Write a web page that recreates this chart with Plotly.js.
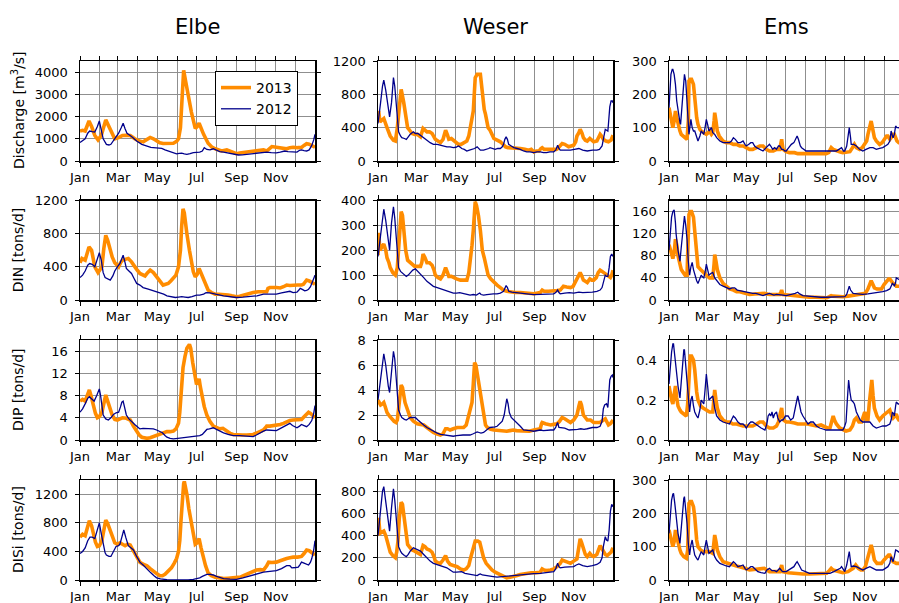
<!DOCTYPE html>
<html>
<head>
<meta charset="utf-8">
<script src="https://cdn.plot.ly/plotly-3.0.1.min.js"></script>
<style>
  html, body { margin: 0; padding: 0; overflow: hidden; background: #fff; }
  #chart { width: 906px; height: 603px; }
</style>
</head>
<body>
<div id="chart"></div>
<script>
// ---- Data: [day of year, value] --------------------------------------------
const MONTH_DAYS = [0, 31, 59, 90, 120, 151, 181, 212, 243, 273, 304, 334];
const MONTH_LABELS = ['Jan', '', 'Mar', '', 'May', '', 'Jul', '', 'Sep', '', 'Nov', ''];
const RIVERS = ['Elbe', 'Weser', 'Ems'];
const VARIABLES = ['Discharge [m<sup>3</sup>/s]', 'DIN [tons/d]', 'DIP [tons/d]', 'DISi [tons/d]'];
const YEARS = ['2013', '2012'];

// Discharge [m3/s]
const elbeQ2013 = [[0,1350],[4,1380],[8,1350],[14,1800],[18,1550],[23,1150],[28,950],[33,1150],[40,1850],[47,1450],[54,1000],[60,1050],[66,1150],[72,1160],[78,1150],[85,1000],[92,900],[98,860],[104,950],[109,1060],[114,1000],[119,900],[124,820],[129,785],[137,790],[145,800],[150,880],[153,1000],[156,1500],[158,2400],[160,3800],[161,4075],[164,3600],[168,2970],[173,2200],[179,1465],[182,1550],[185,1700],[188,1450],[192,1200],[199,800],[205,620],[210,550],[215,480],[220,450],[228,500],[236,400],[243,330],[248,360],[254,380],[262,420],[269,450],[277,480],[285,500],[290,450],[294,560],[298,650],[305,620],[311,600],[316,560],[321,550],[326,600],[331,620],[338,600],[344,610],[348,700],[352,780],[356,760],[360,700],[365,620]];
const elbeQ2012 = [[0,830],[4,900],[8,1000],[12,1250],[15,1350],[19,1320],[23,1300],[27,1550],[30,1800],[33,1400],[36,1000],[41,750],[45,720],[48,750],[52,900],[56,1050],[60,1250],[64,1500],[67,1700],[70,1450],[73,1250],[80,1100],[88,900],[96,750],[104,650],[110,610],[114,600],[120,580],[127,570],[132,500],[137,450],[143,380],[150,320],[154,340],[158,350],[162,320],[166,300],[171,330],[176,380],[181,390],[186,400],[190,450],[193,600],[197,520],[202,500],[207,550],[212,470],[217,420],[223,400],[230,360],[238,300],[246,270],[252,280],[259,300],[266,320],[273,330],[280,350],[285,380],[290,400],[297,380],[305,370],[311,400],[318,450],[323,420],[330,410],[337,400],[341,480],[344,500],[348,470],[352,450],[356,500],[360,700],[363,950],[365,1200]];
const weserQ2013 = [[0,480],[1,600],[3,470],[6,490],[9,510],[14,400],[19,300],[24,250],[27,240],[30,400],[33,700],[36,860],[40,700],[43,520],[46,400],[50,360],[53,330],[57,320],[61,320],[66,290],[68,330],[70,390],[73,370],[76,350],[80,350],[84,330],[89,260],[93,240],[97,220],[101,260],[105,370],[108,310],[110,260],[114,270],[117,250],[121,220],[125,200],[129,200],[133,220],[138,240],[141,300],[143,380],[146,500],[148,600],[151,1000],[154,1040],[159,1040],[161,900],[163,700],[165,620],[167,560],[169,450],[171,400],[174,370],[177,310],[180,270],[185,250],[190,230],[194,200],[198,170],[202,160],[206,160],[213,150],[221,150],[228,140],[234,130],[238,140],[242,110],[246,120],[250,120],[253,150],[255,160],[258,140],[262,140],[267,140],[273,130],[277,140],[279,150],[283,180],[286,210],[290,200],[296,170],[300,180],[304,190],[307,230],[309,300],[312,340],[314,380],[317,330],[319,280],[322,250],[325,240],[329,270],[332,250],[335,230],[340,240],[343,280],[345,320],[348,290],[350,260],[354,240],[358,230],[362,250],[365,310]];
const weserQ2012 = [[0,450],[2,550],[4,700],[7,900],[9,970],[12,850],[14,750],[16,620],[18,530],[21,700],[23,950],[24,1000],[26,900],[28,700],[30,500],[32,350],[35,300],[37,280],[41,270],[44,260],[47,290],[50,320],[55,350],[58,330],[62,330],[66,310],[71,280],[76,250],[81,220],[86,200],[92,200],[97,190],[102,180],[107,170],[112,170],[117,160],[121,165],[125,180],[127,170],[130,150],[134,140],[138,120],[142,130],[146,140],[150,150],[154,170],[157,150],[159,130],[164,130],[169,140],[172,150],[174,160],[178,150],[182,140],[186,150],[190,150],[193,170],[195,200],[197,260],[199,290],[201,260],[203,200],[207,180],[211,160],[216,150],[221,140],[226,120],[231,110],[236,110],[242,100],[247,110],[252,110],[257,100],[262,100],[267,110],[273,110],[276,130],[278,180],[279,190],[281,150],[283,130],[290,130],[299,130],[305,140],[312,150],[318,130],[325,120],[333,130],[340,130],[344,140],[348,180],[351,300],[353,380],[355,370],[357,360],[358,450],[360,650],[362,720],[364,720],[365,700]];
const emsQ2013 = [[0,160],[2,140],[4,120],[6,100],[8,120],[10,150],[12,130],[14,110],[17,90],[19,80],[22,75],[24,70],[28,65],[30,120],[31,240],[33,245],[35,245],[38,230],[40,200],[41,170],[43,130],[45,110],[48,95],[50,90],[54,85],[58,80],[61,85],[63,90],[66,80],[68,85],[70,120],[71,145],[73,120],[75,90],[78,75],[84,60],[89,55],[94,55],[100,50],[105,50],[110,45],[115,45],[120,40],[125,35],[130,35],[136,40],[141,45],[146,45],[151,35],[156,30],[162,30],[167,35],[172,35],[174,55],[175,65],[176,50],[177,35],[182,28],[187,25],[195,25],[200,22],[208,22],[215,22],[222,20],[229,20],[236,22],[244,22],[248,25],[250,35],[252,40],[255,35],[260,30],[265,28],[270,25],[276,28],[281,28],[285,40],[288,50],[291,40],[296,35],[300,40],[304,50],[307,60],[309,80],[311,100],[314,120],[316,100],[319,70],[322,60],[327,50],[331,55],[335,65],[338,75],[340,75],[343,65],[345,70],[348,80],[350,80],[352,65],[354,60],[357,55],[361,55],[365,55]];
const emsQ2012 = [[0,160],[2,230],[3,260],[5,275],[6,275],[8,260],[10,230],[12,180],[15,130],[17,115],[18,110],[20,170],[22,220],[24,260],[26,240],[28,180],[30,120],[31,80],[33,110],[34,125],[36,100],[38,90],[40,90],[43,70],[45,60],[48,75],[50,90],[52,85],[54,80],[56,100],[58,125],[60,110],[62,90],[64,95],[66,100],[68,85],[71,80],[74,70],[79,60],[84,55],[89,55],[94,55],[97,60],[100,70],[103,65],[107,55],[111,55],[115,60],[118,50],[120,45],[124,50],[127,55],[130,55],[133,45],[136,40],[141,35],[146,30],[151,40],[156,50],[158,45],[161,35],[164,40],[167,35],[170,45],[172,45],[175,35],[177,35],[180,30],[182,30],[186,40],[190,50],[194,55],[197,65],[199,75],[201,65],[204,45],[206,40],[210,35],[213,30],[218,30],[225,30],[232,28],[239,30],[245,28],[250,28],[255,30],[260,30],[264,35],[268,40],[271,30],[273,30],[276,45],[278,80],[280,100],[282,70],[283,50],[287,50],[291,45],[296,35],[301,30],[306,35],[312,40],[317,40],[322,35],[327,38],[332,40],[336,45],[340,50],[343,60],[345,90],[347,75],[348,70],[350,80],[352,105],[354,100],[357,100],[360,95],[363,105],[365,100]];

// DIN [tons/d]
const elbeDIN2013 = [[0,450],[3,500],[8,480],[11,560],[14,640],[18,600],[23,400],[28,330],[31,360],[34,400],[37,620],[40,780],[43,720],[47,600],[50,520],[54,450],[60,400],[63,450],[66,480],[70,490],[75,500],[80,460],[83,420],[88,370],[93,320],[98,300],[101,290],[105,330],[109,360],[114,330],[118,290],[122,250],[126,210],[129,180],[133,190],[137,200],[141,230],[145,260],[149,300],[153,400],[156,600],[158,900],[160,1100],[162,1050],[164,900],[166,800],[170,600],[173,450],[176,340],[179,280],[182,310],[185,380],[188,320],[192,250],[196,170],[199,120],[204,90],[210,70],[216,70],[223,70],[230,60],[236,50],[243,40],[248,45],[254,60],[262,80],[269,90],[277,100],[285,100],[290,100],[292,140],[295,150],[305,150],[311,145],[316,160],[321,180],[326,175],[331,180],[338,180],[344,180],[347,190],[350,220],[352,240],[356,230],[360,210],[365,190]];
const elbeDIN2012 = [[0,270],[4,300],[8,350],[12,420],[15,440],[19,430],[23,400],[27,500],[30,570],[33,480],[36,330],[39,270],[43,250],[47,240],[51,290],[54,350],[58,400],[62,440],[65,500],[67,540],[70,450],[72,380],[76,350],[80,320],[84,260],[88,200],[93,180],[98,150],[106,130],[114,110],[120,100],[124,90],[130,70],[135,50],[141,40],[148,30],[153,35],[158,40],[163,35],[168,30],[174,40],[181,60],[186,60],[192,70],[195,85],[197,90],[202,85],[207,80],[214,65],[223,50],[233,40],[243,30],[253,35],[264,40],[275,50],[285,70],[295,70],[305,70],[313,85],[321,100],[326,105],[331,90],[337,95],[340,120],[342,140],[346,125],[349,110],[352,115],[355,130],[358,160],[360,200],[363,250],[365,300]];
const weserDIN2013 = [[0,180],[1,270],[3,200],[6,210],[9,225],[12,200],[14,170],[17,150],[19,130],[23,110],[27,100],[30,130],[32,200],[34,300],[36,355],[38,340],[40,290],[43,200],[46,160],[50,150],[53,140],[57,135],[61,135],[66,135],[68,150],[70,185],[73,170],[76,150],[80,150],[84,140],[87,120],[89,100],[93,90],[97,85],[101,100],[104,125],[105,130],[108,110],[110,95],[114,95],[117,90],[122,85],[128,80],[133,80],[138,80],[141,110],[143,150],[146,220],[148,280],[150,380],[151,395],[153,380],[156,340],[159,280],[162,200],[165,170],[167,150],[169,120],[171,100],[175,85],[180,70],[185,60],[190,50],[195,40],[200,35],[206,32],[213,30],[221,30],[230,28],[236,25],[242,25],[248,28],[252,30],[255,40],[258,35],[265,35],[273,35],[278,38],[283,40],[286,50],[288,55],[293,52],[299,50],[303,55],[306,70],[309,80],[312,100],[314,110],[316,100],[319,80],[322,75],[325,70],[329,85],[332,80],[335,80],[339,90],[342,110],[345,120],[348,115],[352,105],[356,100],[361,90],[363,100],[365,120]];
const weserDIN2012 = [[0,175],[2,220],[4,270],[7,340],[9,365],[12,320],[14,280],[16,240],[18,200],[21,310],[23,360],[24,375],[26,330],[28,260],[30,180],[32,130],[35,115],[37,110],[41,100],[44,95],[47,100],[50,110],[54,120],[58,125],[62,115],[66,105],[71,90],[76,75],[81,65],[86,55],[92,50],[97,45],[102,40],[107,35],[112,32],[117,28],[122,28],[127,30],[130,28],[135,25],[140,22],[143,20],[148,22],[153,20],[156,25],[158,28],[160,22],[164,20],[169,22],[174,25],[179,25],[185,25],[190,28],[195,35],[197,50],[199,58],[201,50],[203,35],[208,32],[213,30],[221,28],[231,25],[242,22],[252,22],[262,22],[268,22],[273,25],[276,30],[278,38],[279,40],[281,30],[283,25],[290,28],[297,30],[304,28],[312,32],[318,30],[325,30],[333,32],[340,35],[345,40],[348,50],[350,70],[353,100],[355,95],[357,95],[359,130],[361,175],[363,185],[365,175]];
const emsDIN2013 = [[0,100],[2,90],[4,80],[6,75],[8,85],[10,110],[12,100],[14,80],[17,65],[19,55],[22,50],[25,45],[28,45],[30,100],[31,155],[33,160],[35,160],[38,150],[40,120],[41,100],[43,75],[45,60],[49,55],[53,50],[58,45],[63,40],[68,40],[70,65],[71,82],[73,70],[75,55],[79,40],[84,30],[89,25],[94,20],[100,18],[105,15],[110,15],[118,12],[125,10],[133,11],[141,12],[148,12],[156,10],[164,10],[172,10],[174,15],[175,18],[176,14],[177,10],[185,9],[192,8],[198,8],[208,6],[218,5],[228,5],[239,4],[245,4],[249,6],[252,8],[255,7],[262,6],[270,6],[278,7],[286,8],[293,9],[301,10],[305,12],[309,20],[312,30],[314,35],[316,30],[319,22],[323,20],[330,20],[334,28],[338,35],[341,38],[343,38],[346,32],[348,30],[351,28],[353,25],[358,25],[365,25]];
const emsDIN2012 = [[0,90],[2,120],[4,150],[6,160],[8,163],[10,140],[11,120],[14,90],[17,70],[19,95],[21,120],[23,145],[24,152],[26,135],[28,110],[30,70],[32,45],[34,60],[36,68],[38,55],[40,45],[43,35],[45,30],[48,38],[50,45],[52,42],[54,40],[56,50],[58,65],[60,55],[62,45],[65,48],[68,50],[71,40],[74,35],[79,28],[84,25],[89,22],[94,20],[98,22],[102,22],[106,18],[110,17],[115,15],[120,14],[125,13],[130,12],[135,12],[141,10],[146,8],[151,10],[156,12],[160,10],[163,9],[167,10],[172,10],[177,9],[182,8],[190,10],[196,12],[200,14],[203,11],[208,8],[215,7],[222,6],[229,5],[236,5],[243,5],[250,5],[257,5],[264,5],[270,5],[273,6],[276,10],[278,20],[280,25],[282,18],[286,12],[293,11],[301,10],[309,11],[317,12],[325,13],[332,15],[338,17],[343,20],[345,25],[347,30],[349,28],[350,25],[352,32],[353,40],[356,38],[360,35],[365,38]];

// DIP [tons/d]
const elbeDIP2013 = [[0,7],[4,7.3],[8,7],[11,8],[14.5,9],[17,8],[21,6],[24,4.8],[27,4],[30,4.2],[34,5],[37,7],[40,8.1],[43,7],[47,5.5],[50,4.5],[54,3.7],[58,3.6],[62,3.8],[66,4],[72,3.9],[78,3.6],[83,2.5],[88,1.5],[92,0.9],[96,0.5],[100,0.4],[104,0.3],[109,0.4],[114,0.6],[119,0.9],[124,1.1],[130,1.3],[135,1.5],[140,1.5],[145,1.6],[149,2],[153,3],[155,5],[158,10],[160,13],[163,15],[166,16.5],[170,17.2],[172,16.5],[175,14],[178,11.5],[181,10],[183,10.5],[185,11],[187,9.5],[189,8],[193,6],[197,4.5],[202,3.3],[207,2.5],[212,2.2],[217,2],[222,2.1],[228,1.5],[233,1.2],[238,1],[245,0.9],[252,0.9],[259,0.9],[264,0.9],[269,1],[275,1.3],[280,1.5],[285,1.8],[288,2.2],[290,2.5],[295,2.5],[300,2.6],[305,2.6],[311,2.8],[316,3],[321,3.3],[326,3.5],[331,3.6],[338,3.7],[344,3.7],[348,4.2],[352,4.8],[355,5],[358,4.8],[360,4.5],[365,4]];
const elbeDIP2012 = [[0,5],[4,5.6],[8,6.5],[12,7.5],[14.5,7.8],[18,7.5],[22,7],[26,8],[30,9.2],[32,8],[34,6],[36,4.5],[40,3.8],[44,3.6],[48,4],[52,4.6],[56,4.9],[60,5],[63,6],[65,6.8],[67,7],[69,6],[72,4.5],[76,3.8],[80,3.3],[85,2.8],[90,2.3],[93,2],[98,2.1],[104,2.1],[109,2.1],[114,2],[119,1.8],[124,1.6],[128,1.3],[132,0.8],[135,0.5],[140,0.3],[145,0.2],[152,0.3],[160,0.4],[168,0.5],[176,0.7],[181,0.75],[186,0.8],[190,1],[194,1.5],[197,1.9],[201,2],[204,2.1],[207,2.2],[212,1.9],[217,1.6],[223,1.3],[230,1],[238,0.8],[248,0.8],[258,0.7],[264,0.65],[269,0.6],[274,0.9],[280,1.3],[285,1.6],[290,1.8],[295,1.8],[300,1.7],[305,1.7],[310,2],[316,2.4],[321,2.7],[326,3],[330,2.6],[334,2.3],[337,2.2],[341,2.5],[344,2.8],[348,2.6],[352,2.4],[356,2.8],[360,3.5],[363,4.8],[365,6.2]];
const weserDIP2013 = [[0,3.2],[2,2.9],[4,2.8],[7,2.9],[9,3],[11,2.7],[14,2.2],[18,1.9],[22,1.6],[25,1.5],[28,1.4],[30,1.6],[32,2.5],[34,3.8],[36,4.4],[38,4.2],[40,3.6],[42,3],[46,2.4],[50,1.8],[55,1.5],[61,1.3],[66,1.25],[71,1.2],[76,1],[81,0.8],[86,0.6],[91,0.5],[97,0.4],[101,0.5],[105,0.9],[108,0.9],[112,0.8],[117,0.9],[123,1],[128,1],[133,1],[137,1.2],[141,2],[144,2.7],[146,3],[148,4.5],[150,6.2],[152,6],[155,5],[158,3.8],[160,3.2],[162,2.5],[165,1.7],[167,1.2],[170,1],[175,0.85],[180,0.8],[190,0.75],[200,0.7],[205,0.75],[210,0.8],[215,0.75],[221,0.75],[228,0.75],[235,0.7],[242,0.8],[248,0.85],[252,0.9],[254,1.3],[255,1.4],[260,1.3],[265,1.25],[268,1.2],[273,1.25],[278,1.3],[282,1.5],[286,1.8],[290,1.7],[295,1.5],[299,1.4],[304,1.6],[309,2],[312,2.7],[314,3.1],[316,2.8],[319,2],[322,1.8],[325,1.6],[330,1.6],[335,1.4],[340,1.4],[345,1.4],[350,1.6],[353,1.7],[356,1.4],[358,1.2],[361,1.3],[363,1.4],[365,1.6]];
const weserDIP2012 = [[0,3.2],[2,4],[4,5],[7,6.4],[9,6.9],[12,6],[14,5],[16,4.3],[18,3.8],[21,5.5],[23,6.8],[24,7.1],[26,6.5],[28,5],[30,3.5],[32,2.4],[35,2],[37,1.8],[41,1.65],[44,1.6],[47,1.7],[50,1.8],[54,1.8],[58,1.8],[62,1.6],[66,1.4],[71,1.2],[76,1],[81,0.85],[86,0.7],[92,0.55],[97,0.45],[102,0.4],[107,0.35],[112,0.32],[117,0.3],[122,0.35],[127,0.4],[132,0.4],[138,0.4],[143,0.4],[148,0.5],[151,0.6],[154,0.65],[157,0.6],[160,0.55],[164,0.6],[168,0.8],[171,0.9],[174,1],[178,1],[182,1.05],[185,1.1],[189,1.3],[193,1.5],[196,2],[198,2.8],[200,3.3],[202,2.9],[204,2.2],[207,1.8],[211,1.6],[216,1.4],[221,1.1],[226,0.8],[231,0.8],[236,0.75],[242,0.7],[248,0.75],[252,0.8],[257,0.75],[262,0.8],[268,0.8],[273,0.8],[276,1],[278,1.3],[279,1.4],[281,1],[283,1],[290,0.95],[297,0.8],[304,0.8],[310,0.85],[315,0.9],[320,0.85],[325,0.9],[333,1],[340,1],[345,1.1],[348,1.5],[350,2.5],[352,2.8],[355,2.9],[357,2.6],[358,3.5],[360,4.8],[362,5.1],[364,5.2],[365,5]];
const emsDIP2013 = [[0,0.27],[2,0.22],[4,0.2],[6,0.18],[8,0.22],[10,0.27],[12,0.21],[14,0.17],[17,0.15],[19,0.14],[23,0.13],[27,0.12],[29,0.18],[31,0.35],[33,0.42],[35,0.42],[38,0.4],[40,0.35],[41,0.3],[43,0.24],[45,0.2],[49,0.17],[53,0.16],[58,0.15],[63,0.14],[68,0.14],[70,0.2],[71,0.25],[73,0.2],[75,0.16],[79,0.12],[84,0.1],[89,0.09],[94,0.09],[99,0.08],[105,0.08],[110,0.075],[115,0.07],[122,0.07],[130,0.07],[136,0.08],[141,0.09],[146,0.09],[151,0.07],[156,0.06],[162,0.06],[167,0.07],[170,0.09],[172,0.12],[174,0.15],[175,0.16],[176,0.13],[178,0.1],[182,0.09],[187,0.09],[195,0.085],[200,0.08],[208,0.08],[215,0.08],[222,0.075],[229,0.07],[236,0.075],[242,0.065],[246,0.06],[250,0.06],[253,0.1],[255,0.12],[257,0.1],[260,0.08],[265,0.06],[270,0.05],[275,0.045],[281,0.05],[285,0.07],[288,0.1],[291,0.11],[295,0.09],[299,0.09],[302,0.12],[304,0.14],[307,0.1],[309,0.1],[311,0.18],[313,0.25],[315,0.3],[317,0.22],[319,0.16],[323,0.12],[327,0.1],[332,0.12],[336,0.13],[340,0.14],[343,0.15],[346,0.12],[348,0.11],[351,0.12],[353,0.13],[355,0.11],[357,0.1],[361,0.1],[365,0.1]];
const emsDIP2012 = [[0,0.28],[2,0.38],[4,0.44],[6,0.48],[7,0.48],[9,0.42],[11,0.35],[14,0.27],[17,0.21],[19,0.3],[21,0.4],[23,0.45],[24,0.45],[26,0.38],[28,0.3],[30,0.2],[32,0.14],[34,0.2],[36,0.22],[38,0.17],[40,0.14],[43,0.12],[45,0.11],[48,0.15],[50,0.2],[52,0.19],[54,0.18],[56,0.25],[58,0.33],[60,0.27],[62,0.2],[65,0.21],[68,0.22],[71,0.16],[74,0.12],[79,0.1],[84,0.09],[89,0.085],[94,0.08],[97,0.1],[100,0.12],[103,0.11],[107,0.09],[111,0.08],[115,0.08],[118,0.07],[120,0.06],[124,0.08],[127,0.09],[130,0.09],[134,0.08],[138,0.07],[143,0.06],[149,0.05],[152,0.08],[154,0.12],[156,0.13],[158,0.12],[160,0.14],[162,0.11],[164,0.13],[167,0.14],[169,0.11],[172,0.09],[175,0.1],[177,0.1],[181,0.12],[185,0.12],[189,0.1],[193,0.11],[196,0.15],[198,0.19],[200,0.22],[202,0.18],[205,0.14],[208,0.12],[212,0.1],[216,0.08],[220,0.09],[224,0.09],[229,0.07],[234,0.06],[239,0.055],[244,0.05],[250,0.05],[255,0.05],[260,0.05],[265,0.05],[270,0.05],[273,0.07],[275,0.09],[277,0.2],[279,0.3],[281,0.24],[283,0.2],[286,0.19],[288,0.18],[291,0.14],[294,0.12],[297,0.1],[301,0.09],[306,0.09],[312,0.09],[317,0.07],[322,0.06],[327,0.065],[332,0.07],[337,0.07],[343,0.08],[345,0.1],[347,0.14],[349,0.13],[350,0.12],[352,0.17],[353,0.19],[356,0.18],[358,0.18],[361,0.17],[363,0.19],[365,0.17]];

// DISi [tons/d]
const elbeDISi2013 = [[0,600],[4,640],[8,620],[11,720],[14.5,830],[18,760],[21,620],[24,530],[27,470],[30,480],[34,550],[37,720],[40,840],[43,790],[47,680],[50,600],[54,520],[58,500],[62,520],[66,500],[70,480],[74,500],[78,490],[81,440],[85,370],[89,300],[93,250],[98,220],[104,200],[109,160],[114,120],[119,90],[124,60],[128,60],[132,80],[137,120],[142,170],[146,230],[150,300],[153,400],[155,550],[157,850],[159,1150],[161,1350],[162,1380],[164,1300],[166,1200],[169,1000],[173,800],[176,620],[179,500],[182,520],[185,580],[188,450],[192,300],[195,200],[199,100],[204,60],[210,40],[216,30],[223,20],[230,25],[238,30],[244,35],[249,40],[254,60],[259,80],[264,100],[269,120],[274,140],[280,145],[285,140],[290,200],[293,250],[298,245],[305,250],[311,270],[316,290],[321,300],[326,310],[331,320],[338,320],[344,330],[348,370],[352,420],[356,410],[360,380],[365,350]];
const elbeDISi2012 = [[0,370],[4,400],[8,450],[12,550],[15.5,600],[19,600],[23,580],[27,700],[30,800],[33,650],[36,500],[39,380],[41,350],[45,330],[48,330],[52,400],[56,470],[60,480],[62,500],[65,600],[68,700],[71,600],[75,480],[79,450],[83,420],[88,330],[93,250],[98,210],[104,150],[110,100],[115,60],[119,30],[125,15],[130,8],[135,5],[145,2],[155,0],[160,0],[168,3],[176,10],[181,15],[186,30],[190,50],[194,70],[197,80],[202,78],[207,70],[212,50],[217,35],[223,20],[233,12],[243,10],[253,30],[264,60],[274,80],[285,110],[295,120],[305,130],[313,160],[321,200],[326,200],[329,170],[335,175],[339,180],[342,220],[344,250],[348,235],[352,215],[355,210],[358,250],[360,300],[363,420],[365,550]];
const weserDISi2013 = [[0,430],[1,560],[3,420],[6,430],[9,440],[12,400],[14,350],[17,290],[19,250],[23,220],[27,200],[29,250],[31,350],[33,550],[36,700],[38,680],[40,580],[43,430],[46,320],[50,290],[53,270],[57,260],[61,250],[66,230],[68,270],[70,310],[73,300],[76,280],[80,270],[84,250],[87,210],[89,170],[93,155],[97,150],[101,180],[104,215],[105,220],[108,170],[112,140],[117,130],[123,120],[128,100],[133,90],[137,100],[141,130],[143,180],[146,240],[148,300],[151,350],[155,350],[158,340],[161,270],[164,200],[168,150],[172,120],[177,90],[182,70],[188,55],[193,40],[197,30],[200,20],[205,25],[211,30],[216,40],[221,50],[226,55],[231,60],[238,65],[245,65],[252,70],[254,90],[255,100],[258,90],[262,85],[268,90],[273,100],[278,120],[283,150],[286,180],[290,170],[295,155],[299,150],[304,170],[309,190],[312,300],[314,370],[316,340],[319,270],[322,230],[325,210],[329,240],[332,220],[335,210],[340,230],[343,280],[345,310],[348,280],[351,250],[353,230],[356,220],[358,230],[362,250],[365,290]];
const weserDISi2012 = [[0,400],[2,520],[4,650],[7,800],[9,840],[12,720],[14,620],[16,520],[18,440],[21,650],[23,790],[24,820],[26,720],[28,600],[30,420],[32,300],[35,260],[37,240],[41,220],[44,210],[47,230],[50,260],[55,290],[58,280],[62,270],[66,260],[71,230],[76,200],[81,170],[86,150],[92,140],[97,130],[102,120],[107,110],[112,90],[117,70],[122,70],[127,75],[130,75],[135,60],[140,55],[143,50],[148,45],[154,40],[157,50],[159,55],[162,45],[166,40],[169,40],[174,35],[179,30],[185,25],[190,28],[195,30],[198,30],[203,35],[211,40],[221,45],[231,55],[242,58],[252,60],[262,65],[268,70],[273,75],[276,100],[278,140],[279,150],[281,120],[283,110],[290,115],[297,120],[304,120],[308,135],[312,145],[318,130],[325,120],[333,130],[340,140],[345,160],[348,200],[350,300],[353,390],[355,360],[357,350],[359,450],[361,620],[363,680],[365,660]];
const emsDISi2013 = [[0,150],[2,130],[4,110],[6,100],[8,115],[10,150],[12,130],[14,110],[17,90],[19,80],[23,70],[27,65],[29,90],[31,230],[33,235],[35,235],[38,220],[40,190],[41,160],[43,120],[45,100],[49,90],[53,85],[58,85],[63,85],[68,80],[70,110],[71,135],[73,115],[75,90],[79,70],[84,55],[89,52],[94,50],[100,45],[105,42],[110,40],[118,35],[125,30],[133,32],[141,35],[148,35],[156,25],[164,25],[172,25],[174,38],[175,45],[176,35],[177,25],[185,22],[192,20],[198,20],[208,18],[218,18],[228,18],[239,18],[245,20],[249,28],[252,35],[255,30],[262,25],[270,22],[278,25],[282,30],[286,35],[290,45],[294,35],[298,30],[301,30],[305,40],[309,70],[312,95],[314,105],[316,90],[319,60],[323,50],[330,50],[334,60],[338,70],[341,75],[343,75],[346,62],[348,55],[351,52],[353,50],[358,50],[365,50]];
const emsDISi2012 = [[0,140],[2,200],[4,240],[6,258],[7,260],[9,230],[11,190],[14,140],[17,110],[19,160],[21,210],[23,245],[24,250],[26,215],[28,170],[30,110],[32,75],[34,105],[36,120],[38,95],[40,75],[43,65],[45,60],[48,75],[50,85],[52,80],[54,75],[56,100],[58,120],[60,100],[62,80],[65,85],[68,90],[71,70],[74,60],[79,50],[84,45],[89,42],[94,40],[97,48],[100,55],[103,50],[107,40],[111,42],[115,45],[118,35],[120,30],[124,35],[127,40],[130,40],[134,32],[138,25],[143,22],[149,20],[152,30],[156,35],[160,28],[164,28],[167,25],[170,32],[172,35],[175,28],[177,25],[182,25],[186,30],[190,35],[194,40],[197,50],[199,55],[202,45],[206,30],[212,25],[218,20],[225,20],[232,20],[239,20],[245,20],[250,20],[256,25],[262,30],[266,35],[268,40],[271,30],[273,25],[276,45],[278,70],[280,85],[282,55],[283,40],[287,42],[291,40],[296,35],[301,30],[306,35],[312,40],[317,35],[322,30],[327,30],[332,30],[336,35],[340,40],[343,50],[345,70],[347,60],[348,55],[350,70],[352,90],[354,88],[357,85],[360,80],[363,85],[365,80]];

// y-axis tick values per panel (rows: variables, columns: rivers)
const Y_TICKS = [
  [[0,1000,2000,3000,4000], [0,400,800,1200], [0,100,200,300]],
  [[0,400,800,1200],        [0,100,200,300,400], [0,40,80,120,160]],
  [[0,4,8,12,16],           [0,2,4,6,8],      [0,0.2,0.4]],
  [[0,400,800,1200],        [0,200,400,600,800], [0,100,200,300]]
];
const Y_MAX = [
  [4500, 1200, 300],
  [1200, 400, 180],
  [18, 8, 0.5],
  [1400, 900, 300]
];

const SERIES = [
  [[elbeQ2013, elbeQ2012],     [weserQ2013, weserQ2012],     [emsQ2013, emsQ2012]],
  [[elbeDIN2013, elbeDIN2012], [weserDIN2013, weserDIN2012], [emsDIN2013, emsDIN2012]],
  [[elbeDIP2013, elbeDIP2012], [weserDIP2013, weserDIP2012], [emsDIP2013, emsDIP2012]],
  [[elbeDISi2013, elbeDISi2012], [weserDISi2013, weserDISi2012], [emsDISi2013, emsDISi2012]]
];

// ---- Layout geometry (pixels) ------------------------------------------------
const W = 906, H = 603;
const COL_PX = [[80, 315], [378, 613], [669, 904]];
const ROW_PX = [[61, 161], [200.5, 300], [340, 440], [480, 580]];
const FONT = 'DejaVu Sans, Liberation Sans, sans-serif';
const STYLE = [
  { color: '#FF8C00', width: 3.6 },   // 2013
  { color: '#00008B', width: 1.3 }    // 2012
];

const traces = [];
const layout = {
  width: W, height: H,
  margin: { l: 0, r: 0, t: 0, b: 0 },
  paper_bgcolor: '#ffffff',
  plot_bgcolor: '#ffffff',
  font: { family: FONT, size: 13, color: '#000' },
  showlegend: true,
  legend: {
    x: 215 / W, y: 1 - 71 / H, xanchor: 'left', yanchor: 'top',
    bgcolor: '#ffffff', bordercolor: '#000', borderwidth: 1,
    font: { family: FONT, size: 14, color: '#000' },
    traceorder: 'normal', itemwidth: 30
  },
  annotations: []
};

for (let r = 0; r < 4; r++) {
  for (let c = 0; c < 3; c++) {
    const n = r * 3 + c + 1;
    const xa = n === 1 ? 'x' : 'x' + n;
    const ya = n === 1 ? 'y' : 'y' + n;
    const xKey = n === 1 ? 'xaxis' : 'xaxis' + n;
    const yKey = n === 1 ? 'yaxis' : 'yaxis' + n;

    SERIES[r][c].forEach((pts, k) => {
      traces.push({
        type: 'scatter', mode: 'lines',
        x: pts.map(p => p[0]), y: pts.map(p => p[1]),
        xaxis: xa, yaxis: ya,
        name: YEARS[k],
        showlegend: n === 1,
        line: { color: STYLE[k].color, width: STYLE[k].width },
        hoverinfo: 'skip'
      });
    });

    const common = {
      showline: true, mirror: 'ticks', linecolor: '#000', linewidth: 1.5,
      ticks: 'outside', ticklen: 4, tickwidth: 1, tickcolor: '#000',
      showgrid: true, gridcolor: '#8f8f8f', gridwidth: 1,
      zeroline: false, fixedrange: true,
      tickfont: { family: FONT, size: 13, color: '#000' }
    };
    layout[xKey] = Object.assign({}, common, {
      domain: [COL_PX[c][0] / W, COL_PX[c][1] / W],
      anchor: ya, range: [0, 365],
      tickmode: 'array', tickvals: MONTH_DAYS, ticktext: MONTH_LABELS
    });
    layout[yKey] = Object.assign({}, common, {
      domain: [1 - ROW_PX[r][1] / H, 1 - ROW_PX[r][0] / H],
      anchor: xa, range: [0, Y_MAX[r][c]],
      tickmode: 'array', tickvals: Y_TICKS[r][c],
      tickformat: Y_MAX[r][c] < 1 ? '.1f' : '',
      ticklabelstandoff: 4
    });
  }
}

// column titles
RIVERS.forEach((name, c) => {
  layout.annotations.push({
    text: name, xref: 'paper', yref: 'paper',
    x: (COL_PX[c][0] + COL_PX[c][1]) / 2 / W, y: 1 - 27 / H,
    xanchor: 'center', yanchor: 'middle', showarrow: false,
    font: { family: FONT, size: 21, color: '#000' }
  });
});
// row titles
VARIABLES.forEach((name, r) => {
  layout.annotations.push({
    text: name, xref: 'paper', yref: 'paper',
    x: 18 / W, y: 1 - (ROW_PX[r][0] + ROW_PX[r][1]) / 2 / H,
    xanchor: 'center', yanchor: 'middle', textangle: -90, showarrow: false,
    font: { family: FONT, size: 14, color: '#000' }
  });
});

Plotly.newPlot('chart', traces, layout, { displayModeBar: false, staticPlot: true });
</script>
</body>
</html>
